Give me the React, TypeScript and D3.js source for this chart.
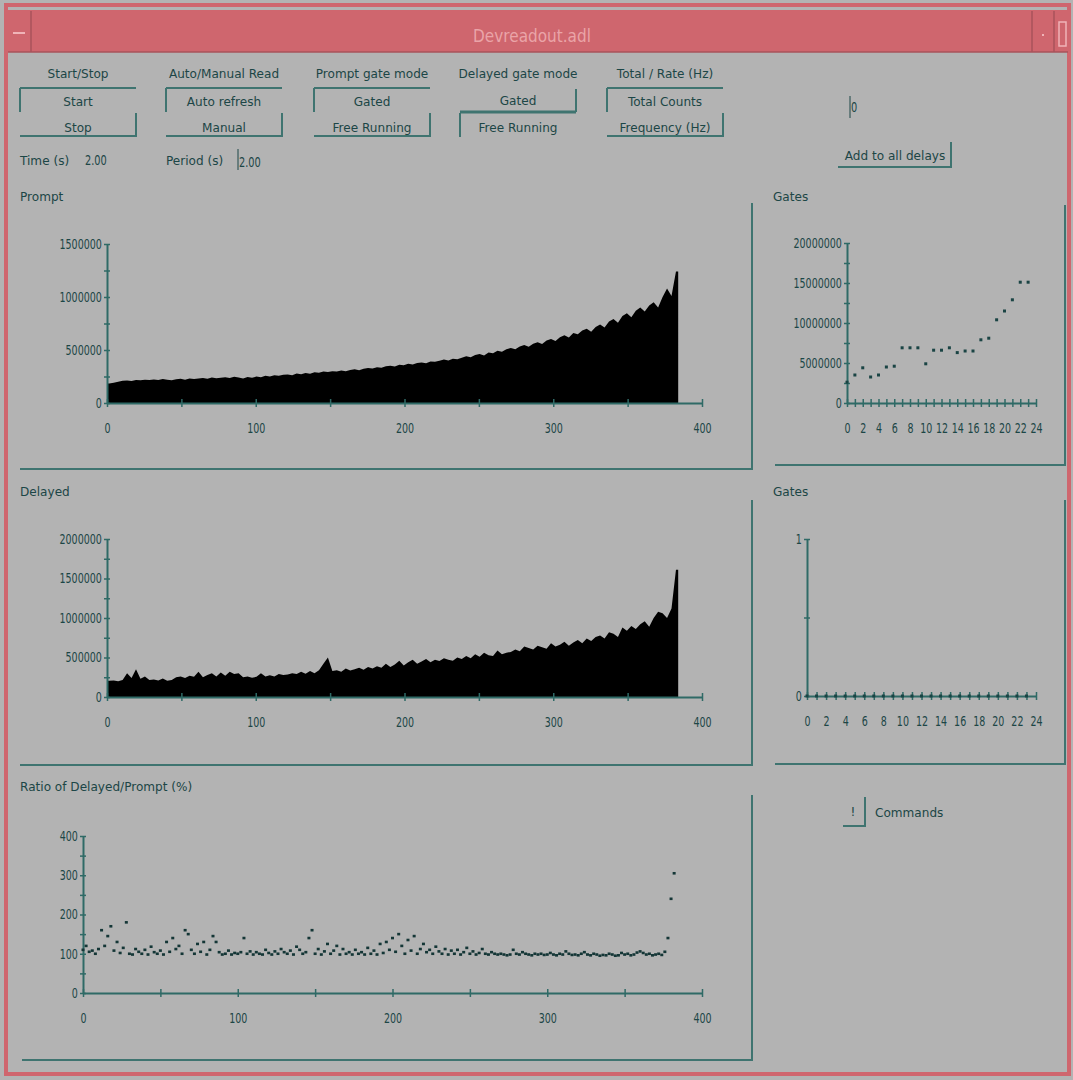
import React, { useEffect, useRef } from "react";
import * as d3 from "d3";

// prompt counts per 3-channel bin, in thousands (channels 0..383)
const promptCounts = [
  185, 190, 200, 210, 212, 208, 218, 214, 220, 216,
  222, 218, 226, 220, 215, 224, 228, 220, 232, 226,
  230, 236, 228, 240, 234, 238, 244, 236, 248, 240,
  232, 246, 238, 250, 244, 256, 250, 262, 258, 266,
  270, 262, 278, 272, 284, 276, 290, 286, 298, 292,
  300, 296, 306, 300, 312, 318, 310, 322, 330, 326,
  338, 332, 346, 352, 344, 360, 356, 370, 364, 378,
  382, 376, 392, 388, 398, 410, 402, 418, 412, 428,
  440, 432, 452, 462, 448, 476, 470, 492, 484, 506,
  520, 508, 534, 548, 530, 560, 574, 556, 590, 604,
  586, 620, 640, 618, 660, 648, 684, 700, 672, 716,
  740, 712, 770, 792, 756, 820, 846, 808, 870, 900,
  864, 920, 950, 900, 1000, 1080, 1010, 1240,
];

// delayed counts per 3-channel bin, in thousands
const delayedCounts = [
  205, 210, 200, 215, 300, 240, 350, 230, 260, 215,
  220, 210, 235, 205, 215, 250, 260, 240, 270, 255,
  320, 250, 280, 300, 260, 310, 270, 320, 290, 300,
  250, 260, 245, 255, 300, 260, 275, 260, 290, 280,
  285, 300, 290, 320, 295, 330, 300, 340, 420, 500,
  330, 340, 320, 360, 335, 350, 370, 345, 380, 360,
  390, 370, 420, 380, 410, 460, 400, 440, 470, 420,
  450, 480, 440, 470, 455, 490, 470, 460, 500, 480,
  520, 490, 540, 510, 560, 530, 520, 590, 540, 560,
  570, 600, 580, 640, 620, 600, 650, 630, 610, 680,
  640, 660, 700, 650, 690, 720, 680, 740, 710, 760,
  780, 740, 820, 800, 760, 880, 840, 900, 860, 920,
  960, 890, 1000, 1080, 1060, 1000, 1120, 1610,
];

// ratio delayed/prompt (%) every 2 channels
const ratioPct = [
  110, 120, 105, 108, 100, 112, 160, 120, 145, 170,
  108, 130, 102, 115, 180, 100, 98, 112, 105, 100,
  110, 98, 118, 104, 100, 108, 98, 130, 105, 140,
  112, 120, 100, 160, 150, 110, 100, 125, 105, 130,
  98, 110, 145, 130, 104, 98, 100, 108, 98, 102,
  100, 104, 140, 100, 106, 98, 104, 100, 98, 110,
  102, 98, 106, 100, 112, 104, 100, 108, 98, 118,
  110, 100, 104, 140, 160, 100, 112, 98, 106, 125,
  100, 108, 120, 98, 112, 100, 104, 98, 110, 100,
  104, 98, 115, 100, 108, 98, 125, 102, 130, 110,
  140, 105, 150, 120, 100, 135, 108, 145, 100, 112,
  125, 104, 110, 100, 118, 106, 100, 112, 98, 108,
  100, 110, 98, 104, 115, 100, 106, 98, 102, 112,
  100, 98, 104, 100, 98, 100, 98, 96, 98, 110,
  100, 98, 104, 100, 98, 96, 100, 98, 100, 97,
  98, 102, 98, 96, 100, 98, 106, 100, 97, 98,
  96, 100, 104, 98, 96, 100, 98, 95, 97, 96,
  100, 98, 95, 96, 102, 98, 100, 96, 98, 103,
  106, 102, 98, 100, 96, 98, 100, 97, 105, 140,
  240, 305,
];

// gate totals (millions), gates 0..23
const gateTotals = [
  2.6, 3.5, 4.4, 3.25, 3.5, 4.5, 4.6, 6.9, 6.9, 6.9, 4.9, 6.6,
  6.6, 6.9, 6.3, 6.5, 6.5, 7.9, 8.1, 10.4, 11.5, 12.9, 15.1, 15.1,
];
const gateTotals2 = [
  0, 0, 0, 0, 0, 0, 0, 0, 0, 0, 0, 0,
  0, 0, 0, 0, 0, 0, 0, 0, 0, 0, 0, 0,
];

// tick values
const chanTicks = [0, 50, 100, 150, 200, 250, 300, 350, 400];
const chanLabels = [0, 100, 200, 300, 400];
const promptTicks = [0, 250000, 500000, 750000, 1000000, 1250000, 1500000];
const promptLabels = [0, 500000, 1000000, 1500000];
const delayedTicks = [0, 250000, 500000, 750000, 1000000, 1250000, 1500000, 1750000, 2000000];
const delayedLabels = [0, 500000, 1000000, 1500000, 2000000];
const ratioTicks = [0, 50, 100, 150, 200, 250, 300, 350, 400];
const ratioLabels = [0, 100, 200, 300, 400];
const gateTicks = d3.range(0, 25);
const gateLabels = [0, 2, 4, 6, 8, 10, 12, 14, 16, 18, 20, 22, 24];
const gateYTicks = [0, 2500000, 5000000, 7500000, 10000000, 12500000, 15000000, 17500000, 20000000];
const gateYLabels = [0, 5000000, 10000000, 15000000, 20000000];
const gate2YTicks = [0, 0.5, 1];
const gate2YLabels = [0, 1];

const FONT = "'DejaVu Sans', sans-serif";
const BG = "#b3b3b3";
const PINK = "#cf666e";
const TXT = "#1c4646";
const AXIS = "#2f6a66";
const SHADOW = "#3f7470";

const groups = [
  { label: "Start/Stop", items: ["Start", "Stop"], x: 20, inv: false },
  { label: "Auto/Manual Read", items: ["Auto refresh", "Manual"], x: 166, inv: false },
  { label: "Prompt gate mode", items: ["Gated", "Free Running"], x: 314, inv: false },
  { label: "Delayed gate mode", items: ["Gated", "Free Running"], x: 460, inv: true },
  { label: "Total / Rate (Hz)", items: ["Total Counts", "Frequency (Hz)"], x: 607, inv: false },
];

function Txt({ x, y, children, anchor = "start", size = 13, fill = TXT, sx = 0.93 }) {
  return (
    <text transform={`translate(${x},${y + size * 0.35}) scale(${sx},1)`} textAnchor={anchor}
      fontSize={size} fontFamily={FONT} fill={fill}>
      {children}
    </text>
  );
}

function Line({ x1, y1, x2, y2, w = 2, c = SHADOW }) {
  return <line x1={x1} y1={y1} x2={x2} y2={y2} stroke={c} strokeWidth={w} />;
}

function ChoiceGroup({ g }) {
  const w = 116;
  const cx = g.x + w / 2;
  return (
    <g>
      <Txt x={cx} y={73} anchor="middle">{g.label}</Txt>
      <Txt x={cx} y={g.inv ? 100 : 101} anchor="middle">{g.items[0]}</Txt>
      <Txt x={cx} y={127} anchor="middle">{g.items[1]}</Txt>
      {g.inv ? (
        <g>
          <Line x1={g.x + w} y1={89} x2={g.x + w} y2={112} />
          <Line x1={g.x} y1={112} x2={g.x + w} y2={112} w={3} />
          <Line x1={g.x} y1={113} x2={g.x} y2={137} />
        </g>
      ) : (
        <g>
          <Line x1={g.x} y1={88} x2={g.x + w} y2={88} />
          <Line x1={g.x} y1={88} x2={g.x} y2={112} />
          <Line x1={g.x + w} y1={113} x2={g.x + w} y2={137} />
          <Line x1={g.x} y1={136} x2={g.x + w} y2={136} />
        </g>
      )}
    </g>
  );
}

function drawAxes(root, x, y, xt, xl, yt, yl) {
  const fmt = d => String(d);
  const xa = root.append("g")
    .attr("transform", `translate(0,${y.range()[0]})`)
    .call(d3.axisBottom(x).tickValues(xt).tickSize(4).tickSizeOuter(0)
      .tickFormat(d => (xl.includes(d) ? fmt(d) : "")));
  xa.attr("font-family", FONT).attr("font-size", 14);
  xa.select(".domain").attr("stroke", AXIS).attr("stroke-width", 2);
  xa.selectAll(".tick line").attr("y1", -4).attr("y2", 4).attr("stroke", AXIS).attr("stroke-width", 1.5);
  xa.selectAll(".tick text").attr("y", 20).attr("fill", TXT).attr("transform", "scale(0.68,1)");

  const ya = root.append("g")
    .attr("transform", `translate(${x.range()[0]},0)`)
    .call(d3.axisLeft(y).tickValues(yt).tickSize(4).tickSizeOuter(0)
      .tickFormat(d => (yl.includes(d) ? fmt(d) : "")));
  ya.attr("font-family", FONT).attr("font-size", 14);
  ya.select(".domain").attr("stroke", AXIS).attr("stroke-width", 2);
  ya.selectAll(".tick line").attr("x1", 3).attr("x2", -3).attr("stroke", AXIS).attr("stroke-width", 1.5);
  ya.selectAll(".tick text").attr("x", -7.5).attr("fill", TXT).attr("transform", "scale(0.68,1)");
}

function drawHist(root, counts, x, y) {
  const pts = [[0, counts[0]], ...counts.map((v, i) => [i * 3 + 1.5, v]), [384, counts[counts.length - 1]]];
  const area = d3.area()
    .x(d => x(d[0]))
    .y0(y(0))
    .y1(d => y(d[1] * 1000))
    .curve(d3.curveLinear);
  root.append("path").datum(pts).attr("d", area).attr("fill", "#000");
}

export default function App() {
  const ref = useRef(null);

  useEffect(() => {
    const svg = d3.select(ref.current);
    svg.select("g.charts").remove();
    const root = svg.append("g").attr("class", "charts");

    // Prompt histogram
    const xP = d3.scaleLinear().domain([0, 400]).range([107, 702]);
    const yP = d3.scaleLinear().domain([0, 1500000]).range([403, 244]);
    drawHist(root, promptCounts, xP, yP);
    drawAxes(root, xP, yP, chanTicks, chanLabels, promptTicks, promptLabels);

    // Delayed histogram
    const xD = d3.scaleLinear().domain([0, 400]).range([107, 702]);
    const yD = d3.scaleLinear().domain([0, 2000000]).range([697, 539]);
    drawHist(root, delayedCounts, xD, yD);
    drawAxes(root, xD, yD, chanTicks, chanLabels, delayedTicks, delayedLabels);

    // Ratio
    const xR = d3.scaleLinear().domain([0, 400]).range([83, 702]);
    const yR = d3.scaleLinear().domain([0, 400]).range([993, 836]);
    drawAxes(root, xR, yR, chanTicks, chanLabels, ratioTicks, ratioLabels);
    root.append("g").selectAll("rect").data(ratioPct).join("rect")
      .attr("x", (d, i) => xR(i * 2) - 1.5)
      .attr("y", d => yR(d) - 1.3)
      .attr("width", 3)
      .attr("height", 2.6)
      .attr("fill", "#143636");

    // Gates (top)
    const xG = d3.scaleLinear().domain([0, 24]).range([847, 1036]);
    const yG = d3.scaleLinear().domain([0, 20000000]).range([403, 243]);
    drawAxes(root, xG, yG, gateTicks, gateLabels, gateYTicks, gateYLabels);
    root.append("g").selectAll("rect").data(gateTotals).join("rect")
      .attr("x", (d, i) => xG(i) - 1.5)
      .attr("y", d => yG(d * 1000000) - 1.5)
      .attr("width", 3)
      .attr("height", 3)
      .attr("fill", "#1a4444");

    // Gates (bottom)
    const xG2 = d3.scaleLinear().domain([0, 24]).range([807, 1036]);
    const yG2 = d3.scaleLinear().domain([0, 1]).range([696, 539]);
    drawAxes(root, xG2, yG2, gateTicks, gateLabels, gate2YTicks, gate2YLabels);
    root.append("g").selectAll("rect").data(gateTotals2).join("rect")
      .attr("x", (d, i) => xG2(i) - 1.5)
      .attr("y", d => yG2(d) - 1.5)
      .attr("width", 3)
      .attr("height", 3)
      .attr("fill", "#1a4444");
  }, []);

  return (
    <svg ref={ref} width={1073} height={1080} style={{ position: "absolute", left: 0, top: 0, background: BG }}>
      <rect x={0} y={0} width={1073} height={1080} fill={BG} />
      {/* window frame */}
      <rect x={6} y={5} width={1063} height={1069} fill="none" stroke={PINK} strokeWidth={4} />
      <rect x={8} y={10} width={1060} height={42} fill={PINK} />
      <Line x1={8} y1={52} x2={1068} y2={52} c="#a9535b" w={1.5} />
      <Line x1={31} y1={11} x2={31} y2={52} c="#a9535b" w={1.5} />
      <Line x1={1032} y1={11} x2={1032} y2={52} c="#a9535b" w={1.5} />
      <Line x1={1054} y1={11} x2={1054} y2={52} c="#a9535b" w={1.5} />
      <Line x1={13} y1={33} x2={25} y2={33} c="#f0b4b8" w={2} />
      <rect x={1042} y={34} width={2} height={2} fill="#f0b4b8" />
      <rect x={1059} y={22} width={7} height={24} fill="none" stroke="#f0b4b8" strokeWidth={1.5} />
      <Txt x={532} y={36} anchor="middle" size={18} fill="#eaa4a8" sx={0.85}>Devreadout.adl</Txt>

      {/* controls */}
      {groups.map(g => <ChoiceGroup key={g.label} g={g} />)}
      <Txt x={20} y={160}>Time (s)</Txt>
      <Txt x={85} y={160} size={14} sx={0.7}>2.00</Txt>
      <Txt x={166} y={160}>Period (s)</Txt>
      <Line x1={238} y1={149} x2={238} y2={170} w={1} c={TXT} />
      <Txt x={239} y={162} size={14} sx={0.7}>2.00</Txt>
      <Line x1={850} y1={96} x2={850} y2={118} w={1} c={TXT} />
      <Txt x={851} y={107} size={14} sx={0.7}>0</Txt>
      <Txt x={895} y={155} anchor="middle">Add to all delays</Txt>
      <Line x1={951} y1={142} x2={951} y2={167} />
      <Line x1={838} y1={167} x2={952} y2={167} />

      {/* panels */}
      <Txt x={20} y={196}>Prompt</Txt>
      <Line x1={752} y1={203} x2={752} y2={470} />
      <Line x1={20} y1={469} x2={752} y2={469} />
      <Txt x={20} y={491}>Delayed</Txt>
      <Line x1={752} y1={500} x2={752} y2={766} />
      <Line x1={20} y1={765} x2={752} y2={765} />
      <Txt x={20} y={786}>Ratio of Delayed/Prompt (%)</Txt>
      <Line x1={752} y1={795} x2={752} y2={1061} />
      <Line x1={22} y1={1060} x2={752} y2={1060} />

      <Txt x={773} y={196}>Gates</Txt>
      <Line x1={1065} y1={205} x2={1065} y2={466} />
      <Line x1={775} y1={465} x2={1065} y2={465} />
      <Txt x={773} y={491}>Gates</Txt>
      <Line x1={1065} y1={500} x2={1065} y2={765} />
      <Line x1={775} y1={764} x2={1065} y2={764} />

      <Txt x={853} y={811} anchor="middle">!</Txt>
      <Line x1={865} y1={797} x2={865} y2={827} />
      <Line x1={843} y1={826} x2={865} y2={826} />
      <Txt x={875} y={812}>Commands</Txt>
    </svg>
  );
}
